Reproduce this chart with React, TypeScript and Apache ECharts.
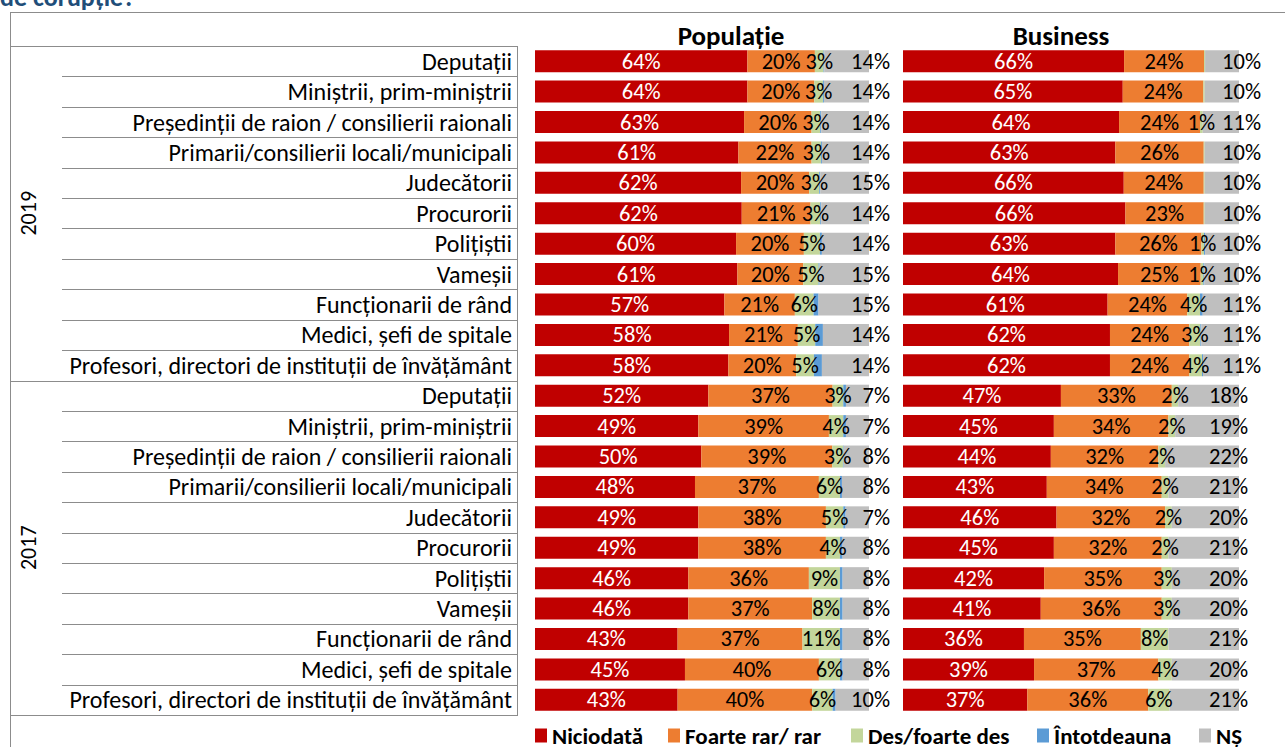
import React, { useEffect, useRef } from 'react';
import * as echarts from 'echarts';

// ---------- DATA ----------
const years = ['2019', '2017'];
const institutions = [
  'Deputații',
  'Miniștrii, prim-miniștrii',
  'Președinții de raion / consilierii raionali',
  'Primarii/consilierii locali/municipali',
  'Judecătorii',
  'Procurorii',
  'Polițiștii',
  'Vameșii',
  'Funcționarii de rând',
  'Medici, șefi de spitale',
  'Profesori, directori de instituții de învățământ',
];
const seriesNames = ['Niciodată', 'Foarte rar/ rar', 'Des/foarte des', 'Întotdeauna', 'NȘ'];
const panelTitles = ['Populație', 'Business'];
const pageTitle = 'de corupție?';

// Populație: 11 rows for 2019, then 11 rows for 2017 (%)
const popNiciodata = [63.6, 63.6, 62.6, 60.9, 61.7, 61.9, 60.2, 60.6, 56.7, 58.1, 57.9, 51.9, 48.9, 49.8, 47.9, 48.9, 48.9, 45.9, 45.9, 42.7, 44.9, 42.7];
const popRar = [20.2, 20.0, 20.2, 21.9, 20.4, 20.6, 20.3, 19.7, 21.1, 20.6, 20.3, 37.2, 39.1, 39.2, 37.1, 38.2, 38.2, 36.1, 37.1, 37.4, 40.1, 40.3];
const popDes = [2.6, 2.6, 2.6, 2.8, 3.0, 2.9, 4.8, 4.6, 5.6, 5.2, 5.3, 3.2, 4.3, 3.2, 6.3, 5.2, 4.2, 9.3, 8.3, 11.2, 6.3, 6.1];
const popIntotdeauna = [0.2, 0.3, 0.3, 0.3, 0.3, 0.3, 0.6, 0.3, 1.5, 2.3, 2.4, 0.8, 0.8, 0.2, 0.6, 0.7, 0.8, 0.8, 0.8, 0.8, 0.8, 0.9];
const popNS = [13.5, 13.5, 14.3, 14.1, 14.6, 14.3, 14.1, 14.8, 15.1, 13.8, 14.1, 6.9, 6.9, 7.6, 8.1, 7.0, 7.9, 7.9, 7.9, 7.9, 7.9, 10.0];

// Business
const busNiciodata = [65.8, 65.4, 64.3, 63.2, 65.7, 66.2, 63.2, 64.0, 60.9, 61.6, 61.6, 47.0, 44.9, 44.0, 42.8, 45.7, 44.9, 42.0, 41.0, 36.0, 39.0, 37.0];
const busRar = [23.8, 24.0, 24.1, 26.3, 23.8, 23.3, 25.6, 24.6, 23.7, 23.6, 23.6, 33.0, 34.1, 32.0, 34.2, 32.3, 32.1, 35.0, 36.0, 34.8, 37.0, 36.0];
const busDes = [0.3, 0.4, 0.8, 0.3, 0.3, 0.3, 0.8, 0.8, 3.8, 3.3, 3.8, 1.9, 2.0, 2.0, 2.0, 2.0, 2.0, 3.0, 3.0, 8.2, 4.0, 6.3];
const busIntotdeauna = [0, 0, 0, 0, 0, 0, 0.3, 0.3, 0.8, 0.3, 0.3, 0, 0, 0, 0, 0, 0, 0, 0, 0, 0, 0];
const busNS = [10.1, 10.2, 10.8, 10.2, 10.2, 10.2, 10.1, 10.3, 10.8, 11.2, 10.7, 18.1, 19.0, 22.0, 21.0, 20.0, 21.0, 20.0, 20.0, 21.0, 20.0, 20.7];

const panels = [
  [popNiciodata, popRar, popDes, popIntotdeauna, popNS],
  [busNiciodata, busRar, busDes, busIntotdeauna, busNS],
];

// ---------- STYLE ----------
const FONT = "Carlito, Calibri, Lato, 'Liberation Sans', sans-serif";
const COLORS = ['#C00000', '#ED7D31', '#C3D69B', '#5B9BD5', '#BFBFBF'];
const LINE = '#8C8C8C';
const GRID_TOP = 46;
const GRID_BOTTOM_Y = 715;
const PANEL_LEFT = [535, 903];
const PANEL_WIDTH = [334, 336];
const LABEL_RIGHT = 517;
const LABEL_LEFT = 62;
const FRAME_LEFT = 10;
const FRAME_TOP = 12;
const LEGEND_X = [535, 668, 851, 1037, 1199];
// shift of the NȘ labels to the right of the bar end, per panel and year
const NS_SHIFT = [[21, 21], [22, 9]];

export default function App() {
  const ref = useRef<HTMLDivElement>(null);

  useEffect(() => {
    if (!ref.current) return;
    const chart = echarts.init(ref.current, undefined, { renderer: 'svg' });

    const rowKeys: string[] = [];
    years.forEach((y) => institutions.forEach((n) => rowKeys.push(y + '|' + n)));
    const nRows = rowKeys.length;
    const rowH = (GRID_BOTTOM_Y - GRID_TOP) / nRows;

    const fmt = (p: any) => {
      const v = Math.round(typeof p.value === 'object' ? p.value.value : p.value);
      return v === 0 ? '' : v + '%';
    };

    const series: any[] = [];
    panels.forEach((arrs, p) => {
      arrs.forEach((vals, s) => {
        const isNS = s === 4;
        series.push({
          type: 'bar',
          name: seriesNames[s],
          stack: 'panel' + p,
          xAxisIndex: p,
          yAxisIndex: p,
          barWidth: 22,
          itemStyle: { color: COLORS[s] },
          label: {
            show: s !== 3,
            position: isNS ? ['100%', '50%'] : 'inside',
            align: isNS ? 'right' : 'center',
            verticalAlign: 'middle',
            formatter: fmt,
            fontFamily: FONT,
            fontSize: 22.5,
            color: s === 0 ? '#FFFFFF' : '#000000',
          },
          data: vals.map((v, i) =>
            isNS
              ? { value: v, label: { offset: [NS_SHIFT[p][Math.floor(i / institutions.length)], 0] } }
              : v
          ),
        });
      });
    });

    const grids = PANEL_LEFT.map((l, i) => ({
      left: l,
      width: PANEL_WIDTH[i],
      top: GRID_TOP,
      height: GRID_BOTTOM_Y - GRID_TOP,
      containLabel: false,
    }));

    const xAxes = PANEL_LEFT.map((_, i) => ({
      type: 'value',
      gridIndex: i,
      min: 0,
      max: 100,
      show: false,
    }));

    const yAxes: any[] = [
      {
        type: 'category',
        gridIndex: 0,
        data: rowKeys,
        inverse: true,
        offset: PANEL_LEFT[0] - LABEL_RIGHT,
        axisLine: { show: false },
        axisTick: { show: false },
        axisLabel: {
          interval: 0,
          margin: 5,
          fontFamily: FONT,
          fontSize: 24,
          color: '#000',
          formatter: (k: string) => k.split('|')[1],
        },
        splitLine: { show: false },
      },
      {
        type: 'category',
        gridIndex: 1,
        data: rowKeys,
        inverse: true,
        show: false,
      },
    ];

    const legends = seriesNames.map((n, i) => ({
      data: [n],
      left: LEGEND_X[i],
      top: 724,
      padding: 0,
      itemWidth: 12,
      itemHeight: 14,
      icon: 'rect',
      selectedMode: false,
      textStyle: { fontFamily: FONT, fontSize: 23, fontWeight: 'bold', color: '#000' },
    }));

    const lineStyle = { stroke: LINE, lineWidth: 1 };
    const graphic: any[] = [
      {
        type: 'text',
        x: 0,
        y: -3,
        style: { text: pageTitle, fill: '#1F4E79', font: `bold 26px ${FONT}`, align: 'left', verticalAlign: 'middle' },
      },
      { type: 'line', shape: { x1: FRAME_LEFT, y1: FRAME_TOP + 0.5, x2: 1285, y2: FRAME_TOP + 0.5 }, style: lineStyle },
      { type: 'line', shape: { x1: FRAME_LEFT + 0.5, y1: FRAME_TOP, x2: FRAME_LEFT + 0.5, y2: 747 }, style: lineStyle },
      { type: 'line', shape: { x1: LABEL_RIGHT + 0.5, y1: GRID_TOP, x2: LABEL_RIGHT + 0.5, y2: GRID_BOTTOM_Y + 1 }, style: lineStyle },
    ];
    // horizontal row separators: from the frame at group boundaries, label column only inside a group
    for (let i = 0; i <= nRows; i++) {
      const y = Math.round(GRID_TOP + i * rowH) + 0.5;
      const groupEdge = i % institutions.length === 0;
      graphic.push({
        type: 'line',
        shape: { x1: groupEdge ? FRAME_LEFT : LABEL_LEFT, y1: y, x2: LABEL_RIGHT + 1, y2: y },
        style: lineStyle,
      });
    }
    years.forEach((y, gi) => {
      const cy = GRID_TOP + (gi + 0.5) * institutions.length * rowH;
      graphic.push({
        type: 'text',
        x: 28,
        y: cy,
        rotation: Math.PI / 2,
        style: { text: y, fill: '#000', font: `22px ${FONT}`, align: 'center', verticalAlign: 'middle' },
      });
    });
    panelTitles.forEach((t, i) => {
      graphic.push({
        type: 'text',
        x: [731, 1061][i],
        y: 35,
        style: { text: t, fill: '#000', font: `bold 27px ${FONT}`, align: 'center', verticalAlign: 'middle' },
      });
    });

    chart.setOption({
      animation: false,
      backgroundColor: '#FFFFFF',
      grid: grids,
      xAxis: xAxes,
      yAxis: yAxes,
      legend: legends,
      series,
      graphic,
    });

    return () => chart.dispose();
  }, []);

  return (
    <div
      ref={ref}
      style={{ position: 'absolute', left: 0, top: 0, width: 1285, height: 747, background: '#fff' }}
    />
  );
}
